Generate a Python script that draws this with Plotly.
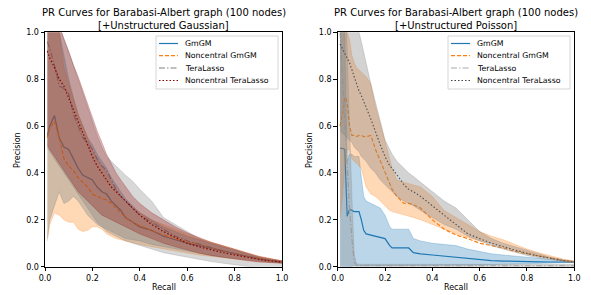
import plotly.graph_objects as go

# ---------------- Left panel: +Unstructured Gaussian ----------------
g_recall = [0.01,0.02,0.04,0.06,0.08,0.1,0.12,0.14,0.16,0.18,0.2,0.22,0.24,0.26,0.28,0.3,
            0.32,0.34,0.37,0.4,0.45,0.5,0.55,0.6,0.65,0.7,0.75,0.8,0.85,0.9,0.95,1.0]

g_gmgm_mean = [0.56,0.60,0.645,0.55,0.51,0.50,0.46,0.42,0.39,0.38,0.37,0.34,0.32,0.31,0.28,0.26,
               0.24,0.21,0.19,0.17,0.155,0.13,0.115,0.10,0.09,0.078,0.068,0.057,0.045,0.035,0.027,0.02]
g_gmgm_up = [1.25,1.2,1.1,1.0,0.9,0.8,0.72,0.65,0.6,0.55,0.52,0.48,0.45,0.42,0.38,0.35,
             0.32,0.29,0.26,0.23,0.2,0.17,0.15,0.13,0.115,0.1,0.085,0.07,0.055,0.042,0.032,0.025]
g_gmgm_lo = [0.12,0.2,0.26,0.32,0.27,0.28,0.3,0.28,0.25,0.22,0.2,0.18,0.17,0.16,0.15,0.14,
             0.13,0.12,0.115,0.11,0.095,0.085,0.075,0.065,0.055,0.048,0.04,0.035,0.028,0.022,0.019,0.015]

g_ncgm_mean = [0.55,0.59,0.62,0.55,0.46,0.43,0.41,0.38,0.36,0.34,0.31,0.30,0.29,0.285,0.27,0.25,
               0.23,0.21,0.19,0.175,0.155,0.135,0.12,0.105,0.095,0.08,0.068,0.055,0.045,0.035,0.027,0.02]
g_ncgm_up = [1.3,1.25,1.1,1.0,0.85,0.78,0.72,0.65,0.6,0.55,0.5,0.46,0.43,0.4,0.36,0.33,
             0.3,0.27,0.25,0.23,0.2,0.18,0.16,0.14,0.12,0.105,0.09,0.075,0.06,0.045,0.035,0.025]
g_ncgm_lo = [0.11,0.18,0.23,0.22,0.2,0.19,0.19,0.16,0.15,0.155,0.17,0.17,0.16,0.14,0.13,0.12,
             0.115,0.11,0.1,0.095,0.085,0.075,0.065,0.058,0.05,0.044,0.038,0.032,0.026,0.022,0.018,0.015]

g_tl_mean = [0.96,0.93,0.86,0.77,0.76,0.74,0.65,0.6,0.55,0.53,0.5,0.46,0.43,0.41,0.37,0.33,
             0.3,0.28,0.25,0.22,0.19,0.16,0.13,0.11,0.095,0.08,0.068,0.055,0.043,0.033,0.025,0.02]
g_tl_up = [1.2,1.15,1.08,1.02,0.97,0.92,0.86,0.8,0.74,0.68,0.62,0.56,0.51,0.47,0.45,0.43,
           0.41,0.39,0.365,0.33,0.28,0.21,0.18,0.15,0.12,0.1,0.085,0.07,0.055,0.04,0.03,0.02]
g_tl_lo = [0.51,0.49,0.46,0.43,0.4,0.37,0.34,0.31,0.28,0.25,0.22,0.19,0.17,0.15,0.14,0.13,
           0.12,0.11,0.1,0.09,0.075,0.06,0.05,0.04,0.03,0.022,0.015,0.008,0.0,-0.005,-0.01,-0.01]

g_nctl_mean = [0.92,0.89,0.85,0.8,0.77,0.72,0.67,0.62,0.57,0.52,0.47,0.43,0.4,0.37,0.34,0.32,
               0.3,0.28,0.25,0.22,0.18,0.15,0.125,0.1,0.085,0.072,0.06,0.05,0.04,0.032,0.025,0.02]
g_nctl_up = [1.3,1.25,1.12,1.03,0.97,0.92,0.86,0.81,0.75,0.69,0.64,0.58,0.53,0.48,0.44,0.4,
             0.37,0.34,0.3,0.27,0.23,0.2,0.17,0.145,0.125,0.105,0.09,0.075,0.06,0.045,0.035,0.025]
g_nctl_lo = [0.52,0.5,0.47,0.44,0.41,0.38,0.35,0.32,0.3,0.28,0.26,0.24,0.22,0.21,0.2,0.19,
             0.18,0.17,0.155,0.14,0.12,0.1,0.085,0.07,0.058,0.048,0.04,0.033,0.026,0.02,0.017,0.015]

# ---------------- Right panel: +Unstructured Poisson ----------------
p_recall = [0.01,0.02,0.03,0.035,0.04,0.05,0.06,0.07,0.08,0.09,0.1,0.11,0.12,0.14,0.16,0.18,0.2,
            0.22,0.23,0.25,0.28,0.3,0.32,0.35,0.4,0.45,0.5,0.55,0.6,0.65,0.7,0.75,0.8,0.85,0.9,0.95,1.0]

p_gmgm_mean = [0.505,0.505,0.5,0.3,0.215,0.245,0.24,0.235,0.235,0.235,0.2,0.155,0.14,0.135,0.13,0.125,0.12,
               0.09,0.08,0.08,0.08,0.08,0.06,0.055,0.05,0.045,0.04,0.035,0.03,0.026,0.024,0.022,0.022,0.021,0.02,0.02,0.02]
p_gmgm_up = [1.3,1.2,1.0,0.6,0.45,0.48,0.48,0.47,0.47,0.47,0.38,0.3,0.28,0.27,0.26,0.25,0.22,
             0.17,0.16,0.16,0.16,0.16,0.12,0.11,0.1,0.095,0.09,0.075,0.065,0.055,0.05,0.045,0.04,0.035,0.03,0.025,0.022]
p_gmgm_lo = [-0.3,-0.2,-0.1,-0.05,-0.02,0.0,0.003,0.004,0.004,0.004,0.004,0.004,0.004,0.004,0.004,0.004,0.004,
             0.004,0.004,0.004,0.004,0.004,0.004,0.004,0.004,0.005,0.005,0.006,0.007,0.009,0.01,0.012,0.014,0.015,0.016,0.017,0.018]

p_ncgm_mean = [0.6,0.65,0.72,0.72,0.7,0.6,0.56,0.56,0.555,0.56,0.56,0.555,0.555,0.56,0.5,0.45,0.4,
               0.35,0.33,0.3,0.27,0.27,0.265,0.25,0.2,0.16,0.135,0.12,0.1,0.09,0.08,0.065,0.055,0.045,0.035,0.027,0.02]
p_ncgm_up = [1.3,1.2,1.1,1.05,1.0,0.97,0.9,0.87,0.85,0.84,0.83,0.82,0.81,0.78,0.68,0.61,0.54,
             0.46,0.42,0.37,0.36,0.355,0.35,0.34,0.3,0.24,0.21,0.18,0.15,0.13,0.115,0.095,0.075,0.06,0.045,0.033,0.025]
p_ncgm_lo = [0.21,0.3,0.42,0.45,0.5,0.5,0.46,0.45,0.44,0.43,0.42,0.38,0.34,0.31,0.3,0.28,0.26,
             0.24,0.235,0.23,0.22,0.215,0.21,0.2,0.18,0.16,0.14,0.125,0.11,0.1,0.085,0.07,0.055,0.045,0.035,0.025,0.018]

p_tl_mean = [1.0,0.8,0.6,0.5,0.4,0.25,0.12,0.02,0.005,0.004,0.004,0.004,0.004,0.004,0.004,0.004,0.004,
             0.004,0.004,0.004,0.004,0.004,0.004,0.004,0.004,0.004,0.004,0.004,0.004,0.004,0.004,0.004,0.004,0.004,0.004,0.004,0.004]
p_tl_up = [1.6,1.5,1.3,1.1,0.9,0.6,0.3,0.05,0.012,0.01,0.01,0.01,0.01,0.01,0.01,0.01,0.01,
           0.01,0.01,0.01,0.01,0.01,0.01,0.01,0.01,0.01,0.01,0.01,0.01,0.01,0.01,0.01,0.01,0.01,0.01,0.01,0.01]
p_tl_lo = [-0.2,-0.3,-0.3,-0.2,-0.15,-0.1,-0.06,-0.01,-0.002,-0.002,-0.002,-0.002,-0.002,-0.002,-0.002,-0.002,-0.002,
           -0.002,-0.002,-0.002,-0.002,-0.002,-0.002,-0.002,-0.002,-0.002,-0.002,-0.002,-0.002,-0.002,-0.002,-0.002,-0.002,-0.002,-0.002,-0.002,-0.002]

p_nctl_mean = [0.95,0.93,0.91,0.9,0.89,0.87,0.84,0.81,0.78,0.75,0.73,0.7,0.68,0.63,0.57,0.52,0.47,
               0.43,0.42,0.39,0.35,0.33,0.32,0.3,0.26,0.22,0.18,0.14,0.12,0.1,0.085,0.07,0.057,0.045,0.035,0.027,0.02]
p_nctl_up = [1.3,1.25,1.2,1.17,1.15,1.1,1.07,1.04,1.02,1.0,0.96,0.92,0.87,0.78,0.7,0.61,0.54,
             0.5,0.48,0.45,0.42,0.4,0.385,0.36,0.32,0.28,0.25,0.2,0.15,0.12,0.1,0.085,0.07,0.055,0.04,0.03,0.022]
p_nctl_lo = [0.58,0.57,0.56,0.555,0.55,0.54,0.53,0.51,0.5,0.49,0.47,0.46,0.45,0.42,0.4,0.37,0.35,
             0.33,0.32,0.3,0.28,0.27,0.26,0.24,0.21,0.18,0.16,0.13,0.11,0.09,0.075,0.06,0.048,0.038,0.03,0.022,0.016]

method_names = ["GmGM", "Noncentral GmGM", "TeraLasso", "Noncentral TeraLasso"]
tick_vals = [0.0, 0.2, 0.4, 0.6, 0.8, 1.0]
tick_text = ["0.0", "0.2", "0.4", "0.6", "0.8", "1.0"]
title_line1 = "PR Curves for Barabasi-Albert graph (100 nodes)"
left_sub = "[+Unstructured Gaussian]"
right_sub = "[+Unstructured Poisson]"
x_title = "Recall"
y_title = "Precision"

# styles: (line color, fill rgba, dash)
left_styles = [
    ("#1f77b4", "rgba(31,119,180,0.30)", "solid"),
    ("#ff7f0e", "rgba(255,127,14,0.30)", "4px,2px"),
    ("#7f7f7f", "rgba(127,127,127,0.30)", "6px,2px,1.5px,2px"),
    ("#8b0000", "rgba(139,0,0,0.28)", "1.5px,2px"),
]
right_styles = [
    ("#1f77b4", "rgba(31,119,180,0.30)", "solid"),
    ("#ff7f0e", "rgba(255,127,14,0.30)", "4px,2px"),
    ("#a9a9a9", "rgba(128,128,128,0.30)", "6px,2px,1.5px,2px"),
    ("#404040", "rgba(128,128,128,0.35)", "1.5px,2px"),
]

FONT = "DejaVu Sans"
PAGE_W, PAGE_H = 591, 295
OFF = 8  # default page body margin
W, H = PAGE_W - OFF, PAGE_H - OFF
fig = go.Figure()

def px(xp):
    return (xp - OFF) / W

def py(yp):
    return 1 - (yp - OFF) / H

def add_panel(xa, ya, recall, means, ups, los, styles):
    for name, m, u, l, (col, fcol, dash) in zip(method_names, means, ups, los, styles):
        fig.add_trace(go.Scatter(x=recall, y=m, mode="lines", name=name, showlegend=False,
                                 line=dict(color=col, width=1.2, dash=dash),
                                 xaxis=xa, yaxis=ya))
        fig.add_trace(go.Scatter(x=recall, y=u, mode="lines", showlegend=False,
                                 line=dict(color=fcol, width=0.8),
                                 xaxis=xa, yaxis=ya, hoverinfo="skip"))
        fig.add_trace(go.Scatter(x=recall, y=l, mode="lines", showlegend=False,
                                 fill="tonexty", fillcolor=fcol,
                                 line=dict(color=fcol, width=0.8),
                                 xaxis=xa, yaxis=ya, hoverinfo="skip"))

add_panel("x", "y", g_recall,
          [g_gmgm_mean, g_ncgm_mean, g_tl_mean, g_nctl_mean],
          [g_gmgm_up, g_ncgm_up, g_tl_up, g_nctl_up],
          [g_gmgm_lo, g_ncgm_lo, g_tl_lo, g_nctl_lo], left_styles)
add_panel("x2", "y2", p_recall,
          [p_gmgm_mean, p_ncgm_mean, p_tl_mean, p_nctl_mean],
          [p_gmgm_up, p_ncgm_up, p_tl_up, p_nctl_up],
          [p_gmgm_lo, p_ncgm_lo, p_tl_lo, p_nctl_lo], right_styles)

L_X0, L_X1 = 45, 282
R_X0, R_X1 = 337.7, 574.3
T_Y, B_Y = 32.3, 266.7

axis_common = dict(range=[0, 1], showgrid=False, zeroline=False, showline=True,
                   linecolor="black", linewidth=1, mirror=True, ticks="outside",
                   ticklen=3.5, tickwidth=0.8, tickcolor="black",
                   tickvals=tick_vals, ticktext=tick_text, automargin=False,
                   tickfont=dict(family=FONT, size=8, color="black"))

fig.update_layout(
    width=W, height=H, margin=dict(l=0, r=0, t=0, b=0, autoexpand=False),
    paper_bgcolor="white", plot_bgcolor="white", showlegend=False,
    xaxis=dict(domain=[px(L_X0), px(L_X1)], anchor="y", **axis_common),
    yaxis=dict(domain=[py(B_Y), py(T_Y)], anchor="x", **axis_common),
    xaxis2=dict(domain=[px(R_X0), px(R_X1)], anchor="y2", **axis_common),
    yaxis2=dict(domain=[py(B_Y), py(T_Y)], anchor="x2", **axis_common),
)

# titles and axis labels
for (xl, xr), sub, ylab_x in [((L_X0, L_X1), left_sub, 18), ((R_X0, R_X1), right_sub, 310)]:
    xc = px((xl + xr) / 2)
    fig.add_annotation(x=xc, y=py(13), xref="paper", yref="paper", showarrow=False,
                       text=title_line1, font=dict(family=FONT, size=10, color="black"),
                       xanchor="center", yanchor="middle")
    fig.add_annotation(x=xc, y=py(25.5), xref="paper", yref="paper", showarrow=False,
                       text=sub, font=dict(family=FONT, size=10, color="black"),
                       xanchor="center", yanchor="middle")
    fig.add_annotation(x=xc, y=py(287), xref="paper", yref="paper", showarrow=False,
                       text=x_title, font=dict(family=FONT, size=8, color="black"),
                       xanchor="center", yanchor="middle")
    fig.add_annotation(x=px(ylab_x), y=py(150), xref="paper", yref="paper", showarrow=False,
                       text=y_title, font=dict(family=FONT, size=8, color="black"),
                       textangle=-90, xanchor="center", yanchor="middle")

# legends (drawn as framed boxes with line samples and text)
row_y = [43.5, 55.7, 68, 80.5]
for box_l, box_r, styles in [(156, 278, left_styles), (448, 570, right_styles)]:
    fig.add_shape(type="rect", xref="paper", yref="paper",
                  x0=px(box_l), x1=px(box_r), y0=py(36), y1=py(89),
                  fillcolor="rgba(255,255,255,0.8)", line=dict(color="#cccccc", width=0.8),
                  layer="above")
    for name, yy, (col, fcol, dash) in zip(method_names, row_y, styles):
        fig.add_shape(type="line", xref="paper", yref="paper",
                      x0=px(box_l + 3), x1=px(box_l + 22), y0=py(yy), y1=py(yy),
                      line=dict(color=col, width=1.2, dash=dash), layer="above")
        fig.add_annotation(x=px(box_l + 27), y=py(yy), xref="paper", yref="paper",
                           showarrow=False, text=name,
                           font=dict(family=FONT, size=7.8, color="black"),
                           xanchor="left", yanchor="middle")

fig.write_html("out.html")
